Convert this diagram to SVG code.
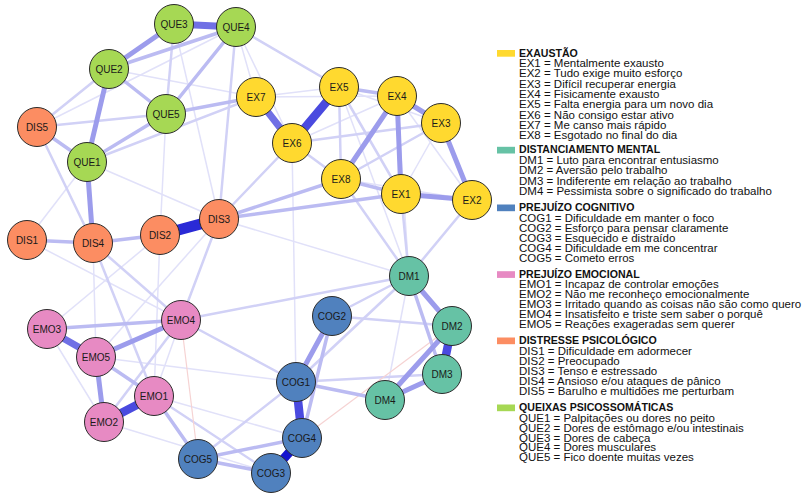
<svg xmlns="http://www.w3.org/2000/svg" width="810" height="499" viewBox="0 0 810 499">
<style>
line{stroke-linecap:round}
.e1{stroke:#e1e1f9;stroke-width:1.5}
.e2{stroke:#d1d1f6;stroke-width:2.5}
.e3{stroke:#bbbbf2;stroke-width:3.5}
.e4{stroke:#9c9cec;stroke-width:5}
.e5{stroke:#7070e5;stroke-width:7}
.e6{stroke:#4a4adf;stroke-width:8.5}
.e7{stroke:#2a2ad6;stroke-width:11}
.neg{stroke:#f6d3d3;stroke-width:1.2}
circle{stroke:#2b2b2b;stroke-width:1}
.ex{fill:#FFD92F}.dm{fill:#66C2A5}.cog{fill:#5081BE}.emo{fill:#E78AC3}.dis{fill:#FC8D62}.que{fill:#A6D854}
.nl{font-family:"Liberation Sans",Arial,sans-serif;font-size:10px;fill:#1a1a1a;text-anchor:middle}
.lt{font-family:"Liberation Sans",Arial,sans-serif;font-size:10.6px;font-weight:bold;fill:#111}
.li{font-family:"Liberation Sans",Arial,sans-serif;font-size:11.5px;fill:#111}
</style>
<g id="edges">
<line class="e1" x1="236" y1="27" x2="292" y2="143"/>
<line class="e1" x1="236" y1="27" x2="256" y2="97"/>
<line class="e1" x1="174" y1="24" x2="219" y2="219"/>
<line class="e1" x1="166" y1="114" x2="160" y2="235"/>
<line class="e1" x1="87" y1="162" x2="219" y2="219"/>
<line class="e1" x1="87" y1="162" x2="27" y2="240"/>
<line class="e1" x1="37" y1="127" x2="236" y2="27"/>
<line class="e1" x1="109" y1="69" x2="256" y2="97"/>
<line class="e1" x1="292" y1="143" x2="296" y2="382"/>
<line class="e1" x1="219" y1="219" x2="409" y2="276"/>
<line class="e1" x1="160" y1="235" x2="47" y2="329"/>
<line class="e1" x1="27" y1="240" x2="181" y2="320"/>
<line class="e1" x1="93" y1="243" x2="96" y2="357"/>
<line class="e1" x1="160" y1="235" x2="154" y2="396"/>
<line class="e1" x1="47" y1="329" x2="104" y2="422"/>
<line class="e1" x1="96" y1="357" x2="296" y2="382"/>
<line class="e1" x1="104" y1="422" x2="271" y2="473"/>
<line class="e1" x1="154" y1="396" x2="302" y2="438"/>
<line class="e1" x1="409" y1="276" x2="385" y2="400"/>
<line class="e1" x1="339" y1="87" x2="409" y2="276"/>
<line class="e1" x1="397" y1="96" x2="409" y2="276"/>
<line class="e1" x1="292" y1="143" x2="397" y2="96"/>
<line class="e1" x1="256" y1="97" x2="397" y2="96"/>
<line class="e1" x1="256" y1="97" x2="339" y2="87"/>
<line class="e1" x1="341" y1="179" x2="472" y2="200"/>
<line class="e1" x1="401" y1="194" x2="441" y2="123"/>
<line class="e1" x1="397" y1="96" x2="472" y2="200"/>
<line class="e1" x1="339" y1="87" x2="441" y2="123"/>
<line class="e1" x1="181" y1="320" x2="154" y2="396"/>
<line class="e1" x1="219" y1="219" x2="96" y2="357"/>
<line class="e2" x1="236" y1="27" x2="339" y2="87"/>
<line class="e2" x1="236" y1="27" x2="219" y2="219"/>
<line class="e2" x1="174" y1="24" x2="166" y2="114"/>
<line class="e2" x1="109" y1="69" x2="37" y2="127"/>
<line class="e2" x1="166" y1="114" x2="37" y2="127"/>
<line class="e2" x1="87" y1="162" x2="256" y2="97"/>
<line class="e2" x1="37" y1="127" x2="93" y2="243"/>
<line class="e2" x1="219" y1="219" x2="292" y2="143"/>
<line class="e2" x1="219" y1="219" x2="181" y2="320"/>
<line class="e2" x1="93" y1="243" x2="181" y2="320"/>
<line class="e2" x1="93" y1="243" x2="154" y2="396"/>
<line class="e2" x1="341" y1="179" x2="409" y2="276"/>
<line class="e2" x1="401" y1="194" x2="409" y2="276"/>
<line class="e2" x1="472" y1="200" x2="409" y2="276"/>
<line class="e2" x1="292" y1="143" x2="441" y2="123"/>
<line class="e2" x1="292" y1="143" x2="341" y2="179"/>
<line class="e2" x1="339" y1="87" x2="341" y2="179"/>
<line class="e2" x1="339" y1="87" x2="401" y2="194"/>
<line class="e2" x1="341" y1="179" x2="441" y2="123"/>
<line class="e2" x1="181" y1="320" x2="409" y2="276"/>
<line class="e2" x1="181" y1="320" x2="296" y2="382"/>
<line class="e2" x1="332" y1="316" x2="452" y2="326"/>
<line class="e2" x1="296" y1="382" x2="442" y2="374"/>
<line class="e2" x1="296" y1="382" x2="409" y2="276"/>
<line class="e2" x1="198" y1="459" x2="296" y2="382"/>
<line class="e2" x1="154" y1="396" x2="271" y2="473"/>
<line class="e2" x1="181" y1="320" x2="104" y2="422"/>
<line class="e2" x1="332" y1="316" x2="409" y2="276"/>
<line class="neg" x1="181" y1="320" x2="198" y2="459"/>
<line class="neg" x1="452" y1="326" x2="302" y2="438"/>
<line class="e3" x1="166" y1="114" x2="87" y2="162"/>
<line class="e3" x1="87" y1="162" x2="37" y2="127"/>
<line class="e3" x1="109" y1="69" x2="166" y2="114"/>
<line class="e3" x1="236" y1="27" x2="166" y2="114"/>
<line class="e3" x1="236" y1="27" x2="109" y2="69"/>
<line class="e3" x1="27" y1="240" x2="93" y2="243"/>
<line class="e3" x1="93" y1="243" x2="160" y2="235"/>
<line class="e3" x1="339" y1="87" x2="397" y2="96"/>
<line class="e3" x1="219" y1="219" x2="341" y2="179"/>
<line class="e3" x1="219" y1="219" x2="401" y2="194"/>
<line class="e3" x1="409" y1="276" x2="442" y2="374"/>
<line class="e3" x1="332" y1="316" x2="302" y2="438"/>
<line class="e3" x1="198" y1="459" x2="302" y2="438"/>
<line class="e3" x1="198" y1="459" x2="271" y2="473"/>
<line class="e3" x1="198" y1="459" x2="154" y2="396"/>
<line class="e3" x1="96" y1="357" x2="154" y2="396"/>
<line class="e3" x1="47" y1="329" x2="181" y2="320"/>
<line class="e3" x1="166" y1="114" x2="256" y2="97"/>
<line class="e3" x1="296" y1="382" x2="385" y2="400"/>
<line class="e3" x1="341" y1="179" x2="401" y2="194"/>
<line class="e4" x1="109" y1="69" x2="174" y2="24"/>
<line class="e4" x1="109" y1="69" x2="87" y2="162"/>
<line class="e4" x1="87" y1="162" x2="93" y2="243"/>
<line class="e4" x1="397" y1="96" x2="441" y2="123"/>
<line class="e4" x1="397" y1="96" x2="341" y2="179"/>
<line class="e4" x1="397" y1="96" x2="401" y2="194"/>
<line class="e4" x1="441" y1="123" x2="472" y2="200"/>
<line class="e4" x1="401" y1="194" x2="472" y2="200"/>
<line class="e4" x1="409" y1="276" x2="452" y2="326"/>
<line class="e4" x1="385" y1="400" x2="452" y2="326"/>
<line class="e4" x1="385" y1="400" x2="442" y2="374"/>
<line class="e4" x1="332" y1="316" x2="296" y2="382"/>
<line class="e4" x1="181" y1="320" x2="96" y2="357"/>
<line class="e4" x1="96" y1="357" x2="104" y2="422"/>
<line class="e5" x1="174" y1="24" x2="236" y2="27"/>
<line class="e5" x1="256" y1="97" x2="292" y2="143"/>
<line class="e5" x1="47" y1="329" x2="96" y2="357"/>
<line class="e6" x1="339" y1="87" x2="292" y2="143"/>
<line class="e6" x1="154" y1="396" x2="104" y2="422"/>
<line class="e6" x1="296" y1="382" x2="302" y2="438"/>
<line class="e6" x1="452" y1="326" x2="442" y2="374"/>
<line class="e7" x1="160" y1="235" x2="219" y2="219"/>
<line class="e7" x1="271" y1="473" x2="302" y2="438" style="stroke:#1414cf;stroke-width:9"/>
</g>
<g id="n-QUE3"><circle class="que" cx="174" cy="24" r="19.5"/><text class="nl" x="174" y="27.5">QUE3</text></g>
<g id="n-QUE4"><circle class="que" cx="236" cy="27" r="19.5"/><text class="nl" x="236" y="30.5">QUE4</text></g>
<g id="n-QUE2"><circle class="que" cx="109" cy="69" r="19.5"/><text class="nl" x="109" y="72.5">QUE2</text></g>
<g id="n-QUE5"><circle class="que" cx="166" cy="114" r="19.5"/><text class="nl" x="166" y="117.5">QUE5</text></g>
<g id="n-QUE1"><circle class="que" cx="87" cy="162" r="19.5"/><text class="nl" x="87" y="165.5">QUE1</text></g>
<g id="n-DIS5"><circle class="dis" cx="37" cy="127" r="19.5"/><text class="nl" x="37" y="130.5">DIS5</text></g>
<g id="n-DIS1"><circle class="dis" cx="27" cy="240" r="19.5"/><text class="nl" x="27" y="243.5">DIS1</text></g>
<g id="n-DIS4"><circle class="dis" cx="93" cy="243" r="19.5"/><text class="nl" x="93" y="246.5">DIS4</text></g>
<g id="n-DIS2"><circle class="dis" cx="160" cy="235" r="19.5"/><text class="nl" x="160" y="238.5">DIS2</text></g>
<g id="n-DIS3"><circle class="dis" cx="219" cy="219" r="19.5"/><text class="nl" x="219" y="222.5">DIS3</text></g>
<g id="n-EX7"><circle class="ex" cx="256" cy="97" r="19.5"/><text class="nl" x="256" y="100.5">EX7</text></g>
<g id="n-EX5"><circle class="ex" cx="339" cy="87" r="19.5"/><text class="nl" x="339" y="90.5">EX5</text></g>
<g id="n-EX4"><circle class="ex" cx="397" cy="96" r="19.5"/><text class="nl" x="397" y="99.5">EX4</text></g>
<g id="n-EX3"><circle class="ex" cx="441" cy="123" r="19.5"/><text class="nl" x="441" y="126.5">EX3</text></g>
<g id="n-EX6"><circle class="ex" cx="292" cy="143" r="19.5"/><text class="nl" x="292" y="146.5">EX6</text></g>
<g id="n-EX8"><circle class="ex" cx="341" cy="179" r="19.5"/><text class="nl" x="341" y="182.5">EX8</text></g>
<g id="n-EX1"><circle class="ex" cx="401" cy="194" r="19.5"/><text class="nl" x="401" y="197.5">EX1</text></g>
<g id="n-EX2"><circle class="ex" cx="472" cy="200" r="19.5"/><text class="nl" x="472" y="203.5">EX2</text></g>
<g id="n-DM1"><circle class="dm" cx="409" cy="276" r="19.5"/><text class="nl" x="409" y="279.5">DM1</text></g>
<g id="n-DM2"><circle class="dm" cx="452" cy="326" r="19.5"/><text class="nl" x="452" y="329.5">DM2</text></g>
<g id="n-DM3"><circle class="dm" cx="442" cy="374" r="19.5"/><text class="nl" x="442" y="377.5">DM3</text></g>
<g id="n-DM4"><circle class="dm" cx="385" cy="400" r="19.5"/><text class="nl" x="385" y="403.5">DM4</text></g>
<g id="n-COG2"><circle class="cog" cx="332" cy="316" r="19.5"/><text class="nl" x="332" y="319.5">COG2</text></g>
<g id="n-COG1"><circle class="cog" cx="296" cy="382" r="19.5"/><text class="nl" x="296" y="385.5">COG1</text></g>
<g id="n-COG4"><circle class="cog" cx="302" cy="438" r="19.5"/><text class="nl" x="302" y="441.5">COG4</text></g>
<g id="n-COG3"><circle class="cog" cx="271" cy="473" r="19.5"/><text class="nl" x="271" y="476.5">COG3</text></g>
<g id="n-COG5"><circle class="cog" cx="198" cy="459" r="19.5"/><text class="nl" x="198" y="462.5">COG5</text></g>
<g id="n-EMO4"><circle class="emo" cx="181" cy="320" r="19.5"/><text class="nl" x="181" y="323.5">EMO4</text></g>
<g id="n-EMO3"><circle class="emo" cx="47" cy="329" r="19.5"/><text class="nl" x="47" y="332.5">EMO3</text></g>
<g id="n-EMO5"><circle class="emo" cx="96" cy="357" r="19.5"/><text class="nl" x="96" y="360.5">EMO5</text></g>
<g id="n-EMO1"><circle class="emo" cx="154" cy="396" r="19.5"/><text class="nl" x="154" y="399.5">EMO1</text></g>
<g id="n-EMO2"><circle class="emo" cx="104" cy="422" r="19.5"/><text class="nl" x="104" y="425.5">EMO2</text></g>
<g id="legend">
<rect x="497" y="50" width="18" height="6.7" class="ex"/>
<text class="lt" x="519" y="56.5">EXAUSTÃO</text>
<text class="li" x="519" y="67">EX1 = Mentalmente exausto</text>
<text class="li" x="519" y="77.3">EX2 = Tudo exige muito esforço</text>
<text class="li" x="519" y="87.6">EX3 = Difícil recuperar energia</text>
<text class="li" x="519" y="97.9">EX4 = Fisicamente exausto</text>
<text class="li" x="519" y="108.2">EX5 = Falta energia para um novo dia</text>
<text class="li" x="519" y="118.5">EX6 = Não consigo estar ativo</text>
<text class="li" x="519" y="128.8">EX7 = Me canso mais rápido</text>
<text class="li" x="519" y="139.1">EX8 = Esgotado no final do dia</text>
<rect x="497" y="146.8" width="18" height="6.7" class="dm"/>
<text class="lt" x="519" y="153.3">DISTANCIAMENTO MENTAL</text>
<text class="li" x="519" y="164">DM1 = Luto para encontrar entusiasmo</text>
<text class="li" x="519" y="174.3">DM2 = Aversão pelo trabalho</text>
<text class="li" x="519" y="184.6">DM3 = Indiferente em relação ao trabalho</text>
<text class="li" x="519" y="194.9">DM4 = Pessimista sobre o significado do trabalho</text>
<rect x="497" y="204.5" width="18" height="6.7" class="cog"/>
<text class="lt" x="519" y="211">PREJUÍZO COGNITIVO</text>
<text class="li" x="519" y="221.7">COG1 = Dificuldade em manter o foco</text>
<text class="li" x="519" y="231.9">COG2 = Esforço para pensar claramente</text>
<text class="li" x="519" y="242">COG3 = Esquecido e distraído</text>
<text class="li" x="519" y="252.1">COG4 = Dificuldade em me concentrar</text>
<text class="li" x="519" y="262.2">COG5 = Cometo erros</text>
<rect x="497" y="271.2" width="18" height="6.7" class="emo"/>
<text class="lt" x="519" y="277.7">PREJUÍZO EMOCIONAL</text>
<text class="li" x="519" y="288.3">EMO1 = Incapaz de controlar emoções</text>
<text class="li" x="519" y="298.3">EMO2 = Não me reconheço emocionalmente</text>
<text class="li" x="519" y="308.3">EMO3 = Irritado quando as coisas não são como quero</text>
<text class="li" x="519" y="318.3">EMO4 = Insatisfeito e triste sem saber o porquê</text>
<text class="li" x="519" y="328.3">EMO5 = Reações exageradas sem querer</text>
<rect x="497" y="337.5" width="18" height="6.7" class="dis"/>
<text class="lt" x="519" y="344">DISTRESSE PSICOLÓGICO</text>
<text class="li" x="519" y="355">DIS1 = Dificuldade em adormecer</text>
<text class="li" x="519" y="365">DIS2 = Preocupado</text>
<text class="li" x="519" y="375">DIS3 = Tenso e estressado</text>
<text class="li" x="519" y="385">DIS4 = Ansioso e/ou ataques de pânico</text>
<text class="li" x="519" y="395">DIS5 = Barulho e multidões me perturbam</text>
<rect x="497" y="404.5" width="18" height="6.7" class="que"/>
<text class="lt" x="519" y="411">QUEIXAS PSICOSSOMÁTICAS</text>
<text class="li" x="519" y="422">QUE1 = Palpitações ou dores no peito</text>
<text class="li" x="519" y="431.8">QUE2 = Dores de estômago e/ou intestinais</text>
<text class="li" x="519" y="441.6">QUE3 = Dores de cabeça</text>
<text class="li" x="519" y="451.4">QUE4 = Dores musculares</text>
<text class="li" x="519" y="461.2">QUE5 = Fico doente muitas vezes</text>
</g>
</svg>
